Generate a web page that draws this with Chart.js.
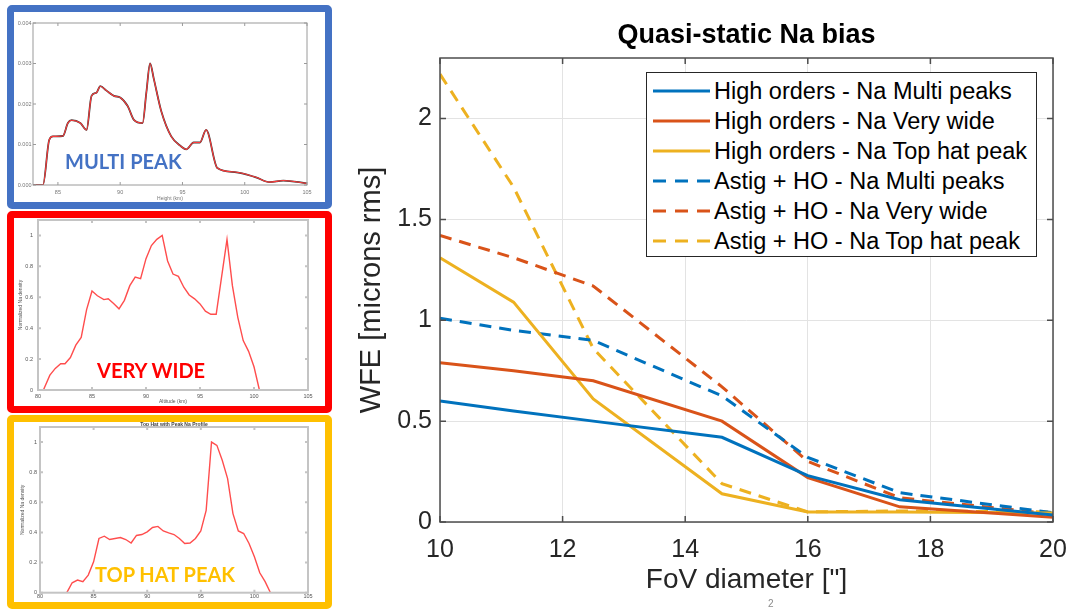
<!DOCTYPE html>
<html>
<head>
<meta charset="utf-8">
<script src="https://cdn.jsdelivr.net/npm/chart.js@4.4.1/dist/chart.umd.min.js"></script>
<style>
html,body{margin:0;padding:0;background:#fff;width:1070px;height:612px;overflow:hidden;font-family:"Liberation Sans",Arial,sans-serif;}
.panel{position:absolute;box-sizing:border-box;border-radius:5px;background:#fff;}
canvas{position:absolute;display:block;}
.tag{position:absolute;font-family:Lato,"Open Sans",sans-serif;font-weight:700;font-size:20px;line-height:20px;white-space:nowrap;z-index:5;}
#legend{position:absolute;left:646px;top:72px;width:391px;height:185px;box-sizing:border-box;border:1px solid #262626;background:#fff;padding-top:3px;z-index:6;}
.lrow{display:flex;align-items:center;height:30px;padding-left:6px;}
.lrow svg{flex:0 0 57px;margin-right:4px;}
.lrow span{font-size:23.5px;color:#000;white-space:nowrap;line-height:30px;}
#pagenum{position:absolute;left:768px;top:598px;font-size:10px;color:#8a8a8a;}
</style>
</head>
<body>
<div class="panel" style="left:7px;top:5px;width:325px;height:204px;border:7px solid #4472C4;"></div>
<div class="panel" style="left:7px;top:211px;width:325px;height:202px;border:7px solid #FF0000;"></div>
<div class="panel" style="left:7px;top:415px;width:325px;height:194px;border:7px solid #FFC000;"></div>

<canvas id="c1" width="311" height="190" style="left:14px;top:12px;"></canvas>
<canvas id="c2" width="311" height="188" style="left:14px;top:218px;"></canvas>
<canvas id="c3" width="311" height="180" style="left:14px;top:422px;"></canvas>

<div class="tag" style="left:65px;top:151px;color:#4472C4;">MULTI PEAK</div>
<div class="tag" style="left:97px;top:360px;color:#FF0000;">VERY WIDE</div>
<div class="tag" style="left:95px;top:564px;color:#FFC000;">TOP HAT PEAK</div>

<canvas id="main" width="730" height="612" style="left:340px;top:0px;"></canvas>
<div id="legend"></div>
<div id="pagenum">2</div>

<script>
// ---------------- Main chart data ----------------
const fov = [10, 11.2, 12.5, 14.6, 16, 17.5, 20];
const hoMulti   = [0.60, 0.55, 0.50, 0.42, 0.23, 0.11, 0.035];
const hoWide    = [0.79, 0.75, 0.70, 0.50, 0.22, 0.075, 0.023];
const hoTopHat  = [1.31, 1.09, 0.61, 0.14, 0.05, 0.05, 0.045];
const astMulti  = [1.01, 0.95, 0.90, 0.625, 0.32, 0.145, 0.046];
const astWide   = [1.42, 1.31, 1.17, 0.67, 0.30, 0.12, 0.04];
const astTopHat = [2.22, 1.66, 0.86, 0.19, 0.05, 0.055, 0.05];
const seriesLabels = [
  'High orders - Na Multi peaks',
  'High orders - Na Very wide',
  'High orders - Na Top hat peak',
  'Astig + HO - Na Multi peaks',
  'Astig + HO - Na Very wide',
  'Astig + HO - Na Top hat peak'
];
const xTickValues = [10, 12, 14, 16, 18, 20];
const yTickValues = [0, 0.5, 1, 1.5, 2];

// ---------------- Profile panels data ----------------
const multiKm  = [83, 83.8, 84.3, 84.6, 85.4, 85.8, 86.1, 86.8, 87.3, 87.7, 88.1, 88.4, 88.9, 89.5, 90.0, 90.6, 91.1, 91.8, 92.1, 92.4, 92.7, 93.3, 94.1, 94.9, 95.3, 95.9, 96.4, 96.9, 97.8, 99.2, 100.9, 102.0, 103.1, 105];
const multiVal = [0, 0, 0.00111, 0.0012, 0.00121, 0.00153, 0.0016, 0.00153, 0.00136, 0.0022, 0.00228, 0.00244, 0.00233, 0.0022, 0.00216, 0.00195, 0.00161, 0.00153, 0.00228, 0.003, 0.00262, 0.00182, 0.0012, 0.00095, 0.00088, 0.00105, 0.00105, 0.00136, 0.00042, 0.00032, 0.00019, 0.00007, 0.00011, 0.00004];
const multiXTicks = [85, 90, 95, 100, 105];
const multiYTicks = [0, 0.001, 0.002, 0.003, 0.004];

const wideKm  = [80, 80.5, 81.1, 81.6, 82.1, 82.5, 83.0, 83.5, 84.0, 84.5, 85.0, 85.5, 86.1, 86.5, 87.0, 87.5, 88.0, 88.5, 89.0, 89.5, 90.0, 90.5, 91.0, 91.5, 92.0, 92.5, 93.0, 93.5, 94.0, 94.5, 95.0, 95.5, 96.0, 96.5, 97.5, 98.0, 98.5, 99.0, 99.5, 100.0, 100.5, 105];
const wideVal = [0, 0, 0.096, 0.14, 0.17, 0.17, 0.21, 0.29, 0.34, 0.52, 0.64, 0.61, 0.585, 0.59, 0.56, 0.525, 0.58, 0.675, 0.73, 0.72, 0.85, 0.935, 0.975, 1.0, 0.835, 0.75, 0.735, 0.665, 0.615, 0.59, 0.557, 0.51, 0.49, 0.49, 0.975, 0.675, 0.47, 0.32, 0.25, 0.15, 0, 0];

const hatKm  = [80, 82.5, 83.0, 83.5, 84.0, 84.5, 85.0, 85.5, 86.0, 86.5, 87.5, 88.0, 88.5, 89.0, 89.5, 90.0, 90.5, 91.0, 91.5, 92.0, 92.5, 93.0, 93.5, 94.0, 94.5, 95.0, 95.5, 96.0, 96.5, 97.0, 97.5, 98.0, 98.5, 99.0, 99.5, 100.0, 100.5, 101.0, 101.5, 105];
const hatVal = [0, 0, 0.066, 0.084, 0.073, 0.117, 0.205, 0.36, 0.375, 0.353, 0.366, 0.353, 0.33, 0.38, 0.386, 0.404, 0.433, 0.44, 0.41, 0.397, 0.386, 0.36, 0.327, 0.33, 0.36, 0.41, 0.547, 1.0, 0.978, 0.879, 0.757, 0.525, 0.41, 0.393, 0.327, 0.238, 0.132, 0.073, 0, 0];

const altXTicks = [80, 85, 90, 95, 100, 105];
const normYTicks = [0, 0.2, 0.4, 0.6, 0.8, 1];

// ---------------- helpers ----------------
Chart.defaults.font.family = "'Liberation Sans', Arial, Helvetica, sans-serif";
Chart.defaults.animation = false;

const xy = (xs, ys) => xs.map((x, i) => ({x: x, y: ys[i]}));
const setTicks = vals => (scale => { scale.ticks = vals.map(v => ({value: v})); });
const fitX = h => (s => { s.height = h; s.paddingLeft = 0; s.paddingRight = 0; });
const fitY = w => (s => { s.width = w; s.paddingTop = 0; s.paddingBottom = 0; });

function framePlugin(color, width, tickLen) {
  return {
    id: 'frame',
    afterDatasetsDraw(chart) {
      const {ctx, chartArea: a, scales} = chart;
      ctx.save();
      ctx.strokeStyle = color;
      ctx.lineWidth = width;
      ctx.beginPath();
      const xs = scales.x, ys = scales.y;
      xs.ticks.forEach((t, i) => {
        const p = xs.getPixelForTick(i);
        ctx.moveTo(p, a.bottom); ctx.lineTo(p, a.bottom - tickLen);
        ctx.moveTo(p, a.top); ctx.lineTo(p, a.top + tickLen);
      });
      ys.ticks.forEach((t, i) => {
        const p = ys.getPixelForTick(i);
        ctx.moveTo(a.left, p); ctx.lineTo(a.left + tickLen, p);
        ctx.moveTo(a.right, p); ctx.lineTo(a.right - tickLen, p);
      });
      ctx.stroke();
      ctx.strokeRect(a.left, a.top, a.right - a.left, a.bottom - a.top);
      ctx.restore();
    }
  };
}

// ---------------- Main chart ----------------
const colors = ['#0072BD', '#D95319', '#EDB120', '#0072BD', '#D95319', '#EDB120'];
const seriesValues = [hoMulti, hoWide, hoTopHat, astMulti, astWide, astTopHat];
const mainChart = new Chart(document.getElementById('main'), {
  type: 'line',
  data: {
    datasets: seriesValues.map((vals, i) => ({
      label: seriesLabels[i],
      data: xy(fov, vals),
      borderColor: colors[i],
      backgroundColor: colors[i],
      borderWidth: 3,
      borderDash: i >= 3 ? [12, 8] : [],
      pointRadius: 0,
      tension: 0,
      fill: false
    }))
  },
  options: {
    responsive: false,
    layout: {padding: {left: 0, right: 17, top: 0, bottom: 0}},
    plugins: {
      legend: {display: false},
      tooltip: {enabled: false},
      title: {
        display: true,
        text: 'Quasi-static Na bias',
        fullSize: false,
        color: '#000',
        font: {size: 27, weight: 'bold'},
        padding: {top: 19, bottom: 6.6}
      }
    },
    scales: {
      x: {
        type: 'linear', min: 10, max: 20,
        afterBuildTicks: setTicks(xTickValues),
        afterFit: fitX(90),
        grid: {color: '#e3e3e3', lineWidth: 1, drawTicks: false},
        border: {display: false},
        ticks: {font: {size: 25}, color: '#262626', padding: 13, maxRotation: 0, autoSkip: false, callback: v => String(v)},
        title: {display: true, text: 'FoV diameter ["]', color: '#262626', font: {size: 28}, padding: {top: 0, bottom: 15}}
      },
      y: {
        type: 'linear', min: 0, max: 2.3,
        afterBuildTicks: setTicks(yTickValues),
        afterFit: fitY(100),
        grid: {color: '#e3e3e3', lineWidth: 1, drawTicks: false},
        border: {display: false},
        ticks: {font: {size: 25}, color: '#262626', padding: 8, autoSkip: false, callback: v => String(v)},
        title: {display: true, text: 'WFE [microns rms]', color: '#262626', font: {size: 29}, padding: {top: 15, bottom: 0}}
      }
    }
  },
  plugins: [framePlugin('#4d4d4d', 1.5, 6)]
});

// HTML legend built from the chart's datasets
const legendEl = document.getElementById('legend');
mainChart.data.datasets.forEach(ds => {
  const row = document.createElement('div');
  row.className = 'lrow';
  const dash = ds.borderDash.length ? ' stroke-dasharray="13 9"' : '';
  row.innerHTML = '<svg width="57" height="30"><line x1="0" y1="15" x2="57" y2="15" stroke="' + ds.borderColor + '" stroke-width="3"' + dash + '/></svg><span>' + ds.label + '</span>';
  legendEl.appendChild(row);
});

// ---------------- Mini profile charts ----------------
function miniChart(id, o) {
  return new Chart(document.getElementById(id), {
    type: 'line',
    data: {datasets: o.datasets},
    options: {
      responsive: false,
      layout: {padding: o.padding},
      plugins: {legend: {display: false}, tooltip: {enabled: false}, title: o.title || {display: false}},
      scales: {
        x: {
          type: 'linear', min: o.xmin, max: o.xmax,
          afterBuildTicks: setTicks(o.xticks),
          afterFit: fitX(o.xh),
          grid: {display: false, drawTicks: false},
          border: {display: false},
          ticks: {font: {size: o.fs}, color: o.tc, padding: o.xpad, maxRotation: 0, autoSkip: false, callback: v => String(v)},
          title: o.xtitle ? {display: true, text: o.xtitle, color: o.tc, font: {size: o.fs - 0.5}, padding: {top: 0, bottom: o.xtpb}} : {display: false}
        },
        y: {
          type: 'linear', min: o.ymin, max: o.ymax,
          afterBuildTicks: setTicks(o.yticks),
          afterFit: fitY(o.yw),
          grid: {display: false, drawTicks: false},
          border: {display: false},
          ticks: {font: {size: o.fs}, color: o.tc, padding: o.ypad, autoSkip: false, callback: o.yfmt},
          title: o.ytitle ? {display: true, text: o.ytitle, color: o.tc, font: {size: o.fs - 0.5}, padding: {top: o.ytpt, bottom: 0}} : {display: false}
        }
      }
    },
    plugins: [framePlugin(o.frameColor, o.frameWidth, o.tickLen)]
  });
}

miniChart('c1', {
  datasets: [
    {data: xy(multiKm, multiVal), borderColor: '#ff3b3b', borderWidth: 1.1, pointRadius: 0, cubicInterpolationMode: 'monotone'},
    {data: xy(multiKm, multiVal), borderColor: '#3a3a3a', borderWidth: 1.8, pointRadius: 0, cubicInterpolationMode: 'monotone'}
  ],
  padding: {left: 0, right: 18, top: 11, bottom: 0},
  xmin: 83, xmax: 105, xticks: multiXTicks, xh: 17, xpad: 3.7, xtitle: 'Height (km)', xtpb: 0,
  ymin: 0, ymax: 0.004, yticks: multiYTicks, yw: 19, ypad: 1.5, yfmt: v => v.toFixed(3),
  fs: 5.5, tc: '#777', frameColor: '#9a9a9a', frameWidth: 1, tickLen: 3
});

miniChart('c2', {
  datasets: [
    {data: xy(wideKm, wideVal), borderColor: '#ff4d4d', borderWidth: 1.4, pointRadius: 0, tension: 0}
  ],
  padding: {left: 0, right: 17, top: 2, bottom: 0},
  xmin: 80, xmax: 105, xticks: altXTicks, xh: 16, xpad: 2.7, xtitle: 'Altitude (km)', xtpb: 1,
  ymin: 0, ymax: 1.1, yticks: normYTicks, yw: 24, ypad: 5, yfmt: v => String(v), ytitle: 'Normalized Na density', ytpt: 3.7,
  fs: 5.5, tc: '#555', frameColor: '#c4c4c4', frameWidth: 2, tickLen: 3
});

miniChart('c3', {
  datasets: [
    {data: xy(hatKm, hatVal), borderColor: '#ff4d4d', borderWidth: 1.4, pointRadius: 0, tension: 0}
  ],
  title: {display: true, text: 'Top Hat with Peak Na Profile', fullSize: false, color: '#444', font: {size: 5, lineHeight: 1}, padding: {top: 0, bottom: 0}},
  padding: {left: 0, right: 17, top: 0, bottom: 0},
  xmin: 80, xmax: 105, xticks: altXTicks, xh: 9.3, xpad: 0.7,
  ymin: 0, ymax: 1.1, yticks: normYTicks, yw: 26, ypad: 3, yfmt: v => String(v), ytitle: 'Normalized Na density', ytpt: 5.7,
  fs: 5.5, tc: '#555', frameColor: '#c4c4c4', frameWidth: 2, tickLen: 3
});
</script>
</body>
</html>
